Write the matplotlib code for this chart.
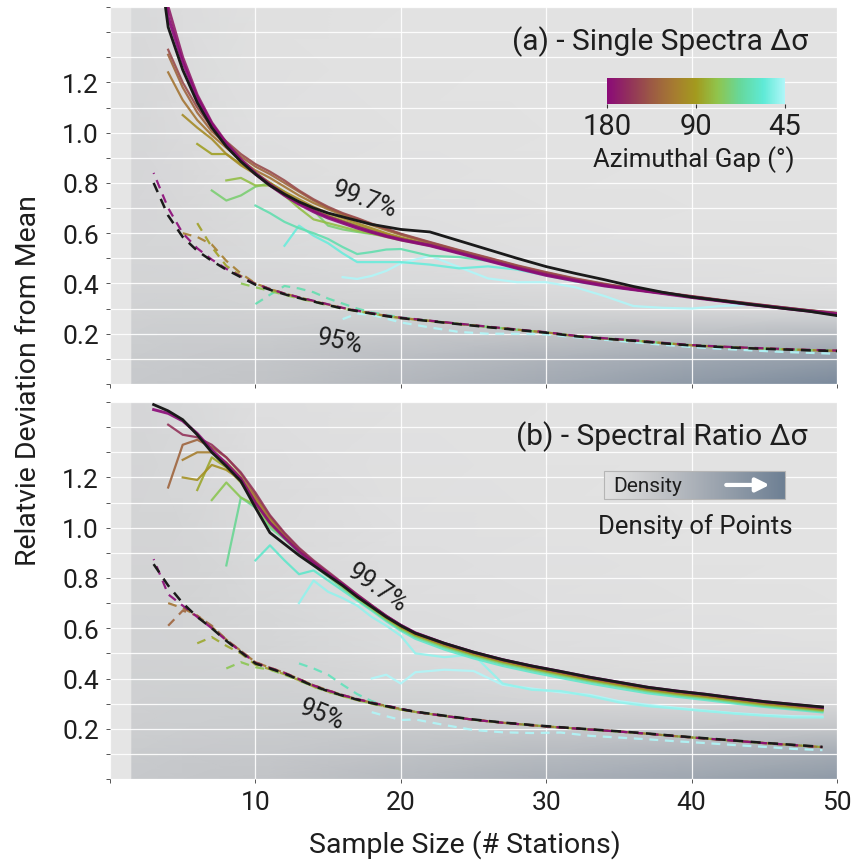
import numpy as np
import matplotlib
matplotlib.use('Agg')
import matplotlib.pyplot as plt
from matplotlib.colors import LinearSegmentedColormap, LogNorm, Normalize
from matplotlib.ticker import FixedLocator, NullLocator
from matplotlib.cm import ScalarMappable

plt.rcParams['font.family'] = ['Roboto', 'DejaVu Sans']

N = np.nan

# sample sizes used for the curves
XA = list(range(3, 21)) + list(range(22, 51, 2))
XB = list(range(3, 21)) + list(range(21, 50, 2))

# ---- panel (a) single spectra, 99.7% ----
a99_all = [1.85, 1.42, 1.25, 1.12, 1.02, 0.945, 0.885, 0.835, 0.79, 0.755, 0.725, 0.70, 0.68, 0.665, 0.65,
           0.635, 0.625, 0.615, 0.605, 0.57, 0.535, 0.50, 0.467, 0.44, 0.415, 0.388, 0.365, 0.346, 0.332,
           0.317, 0.303, 0.29, 0.272]
a99 = {
    180: [1.9, 1.46, 1.28, 1.14, 1.035, 0.955, 0.89, 0.835, 0.79, 0.75, 0.715, 0.685, 0.66, 0.64, 0.62, 0.603,
          0.587, 0.573, 0.55, 0.52, 0.49, 0.46, 0.432, 0.41, 0.39, 0.375, 0.36, 0.344, 0.33, 0.316, 0.303, 0.29, 0.277],
    165: [1.95, 1.50, 1.30, 1.15, 1.04, 0.96, 0.895, 0.84, 0.795, 0.755, 0.72, 0.69, 0.665, 0.645, 0.625, 0.607,
          0.59, 0.576, 0.553, 0.523, 0.493, 0.463, 0.436, 0.413, 0.393, 0.377, 0.362, 0.347, 0.332, 0.318, 0.305, 0.292, 0.28],
    135: [N, 1.33, 1.20, 1.10, 1.02, 0.965, 0.915, 0.875, 0.845, 0.81, 0.77, 0.735, 0.705, 0.68, 0.66, 0.638,
          0.618, 0.598, 0.565, 0.533, 0.503, 0.472, 0.445, 0.42, 0.399, 0.381, 0.365, 0.35, 0.335, 0.321, 0.307, 0.294, 0.283],
    120: [N, 1.31, 1.18, 1.08, 1.005, 0.955, 0.905, 0.865, 0.835, 0.80, 0.765, 0.73, 0.70, 0.677, 0.657, 0.636,
          0.616, 0.596, 0.563, 0.531, 0.501, 0.47, 0.443, 0.418, 0.397, 0.379, 0.363, 0.348, 0.333, 0.319, 0.305, 0.292, 0.281],
    110: [N, 1.24, 1.13, 1.05, 0.99, 0.94, 0.89, 0.85, 0.82, 0.785, 0.75, 0.72, 0.695, 0.672, 0.652, 0.632,
          0.612, 0.593, 0.56, 0.528, 0.498, 0.468, 0.441, 0.416, 0.395, 0.378, 0.362, 0.347, 0.332, 0.318, 0.305, 0.292, 0.28],
    98: [N, N, 1.07, 1.02, 0.975, 0.915, 0.87, 0.835, 0.80, 0.765, 0.735, 0.705, 0.68, 0.66, 0.64, 0.62,
         0.60, 0.583, 0.553, 0.523, 0.493, 0.463, 0.437, 0.413, 0.393, 0.376, 0.361, 0.346, 0.331, 0.317, 0.304, 0.291, 0.279],
    88: [N, N, N, 0.955, 0.915, 0.915, 0.875, 0.84, 0.80, 0.76, 0.72, 0.69, 0.67, 0.65, 0.632, 0.613,
         0.596, 0.58, 0.552, 0.522, 0.492, 0.462, 0.436, 0.412, 0.392, 0.376, 0.361, 0.346, 0.332, 0.318, 0.305, 0.292, 0.28],
    78: [N, N, N, N, N, 0.81, 0.82, 0.79, 0.79, 0.75, 0.70, 0.655, 0.64, 0.625, 0.61, 0.598,
         0.585, 0.572, 0.55, 0.522, 0.493, 0.464, 0.438, 0.414, 0.394, 0.377, 0.362, 0.347, 0.333, 0.319, 0.306, 0.293, 0.281],
    70: [N, N, N, N, 0.77, 0.73, 0.75, 0.785, 0.80, 0.765, 0.72, 0.69, 0.63, 0.615, 0.605, 0.597,
         0.59, 0.58, 0.553, 0.523, 0.495, 0.465, 0.44, 0.415, 0.395, 0.378, 0.363, 0.348, 0.334, 0.32, 0.307, 0.294, 0.282],
    60: [N] * 7 + [0.71, 0.68, 0.645, 0.62, 0.60, 0.577, 0.545, 0.517, 0.525, 0.535, 0.537, 0.51, 0.505, 0.49,
                   0.462, 0.435, 0.41, 0.392, 0.376, 0.361, 0.346, 0.332, 0.318, 0.305, 0.292, 0.28],
    52: [N] * 9 + [0.55, 0.63, 0.59, 0.56, 0.52, 0.485, 0.485, 0.485, 0.485, 0.475, 0.46, 0.468, 0.455, 0.432,
                   0.408, 0.39, 0.375, 0.36, 0.345, 0.331, 0.317, 0.304, 0.291, 0.279],
    45: [N] * 13 + [0.425, 0.418, 0.43, 0.45, 0.48, 0.51, 0.465, 0.42, 0.405, 0.405, 0.385, 0.35, 0.31, 0.303,
                    0.30, 0.31, 0.315, 0.305, 0.293, 0.28],
}

# ---- panel (a) single spectra, 95% ----
a95_all = [0.80, 0.67, 0.585, 0.53, 0.49, 0.455, 0.425, 0.395, 0.375, 0.357, 0.342, 0.328, 0.314, 0.30, 0.29,
           0.28, 0.27, 0.262, 0.25, 0.238, 0.226, 0.215, 0.204, 0.19, 0.18, 0.172, 0.162, 0.153, 0.147, 0.142,
           0.138, 0.134, 0.131]
a95_tail = [0.251, 0.239, 0.227, 0.216, 0.205, 0.191, 0.181, 0.173, 0.163, 0.154, 0.148, 0.143, 0.139, 0.135, 0.132]
a95 = {
    180: [0.84, 0.70, 0.60, 0.54, 0.495, 0.458, 0.428, 0.398, 0.378, 0.36, 0.345, 0.331, 0.317, 0.303, 0.292,
          0.282, 0.272, 0.264, 0.252, 0.24, 0.228, 0.217, 0.206, 0.192, 0.182, 0.174, 0.164, 0.155, 0.149,
          0.144, 0.14, 0.136, 0.133],
    105: [N, N, 0.60, 0.585, 0.555, 0.49, 0.44, 0.40, 0.378, 0.36, 0.345, 0.33, 0.316, 0.302, 0.291, 0.281,
          0.271, 0.263] + a95_tail,
    88: [N, N, N, 0.64, 0.545, 0.47, 0.43, 0.40, 0.378, 0.36, 0.344, 0.33, 0.316, 0.302, 0.291, 0.281,
         0.271, 0.263] + a95_tail,
    75: [N] * 6 + [0.40, 0.385, 0.37, 0.355, 0.34, 0.327, 0.313, 0.30, 0.29, 0.28, 0.27, 0.262] + a95_tail,
    60: [N] * 7 + [0.318, 0.355, 0.39, 0.38, 0.365, 0.34, 0.32, 0.30, 0.285, 0.275, 0.265] + a95_tail,
    45: [N] * 13 + [0.258, 0.28, 0.275, 0.26, 0.245, 0.225, 0.207, 0.2, 0.2, 0.197, 0.186, 0.176, 0.166,
                    0.156, 0.147, 0.14, 0.134, 0.128, 0.124, 0.12],
}

# ---- panel (b) spectral ratio, 99.7% ----
b99_all = [1.49, 1.465, 1.43, 1.37, 1.30, 1.245, 1.185, 1.08, 0.98, 0.935, 0.89, 0.85, 0.81, 0.77, 0.725,
           0.685, 0.645, 0.61, 0.58, 0.54, 0.505, 0.475, 0.45, 0.428, 0.405, 0.385, 0.365, 0.35, 0.337,
           0.322, 0.308, 0.297, 0.287]
b99 = {
    180: [1.47, 1.455, 1.425, 1.375, 1.31, 1.255, 1.195, 1.10, 1.02, 0.96, 0.905, 0.86, 0.815, 0.775, 0.73,
          0.688, 0.648, 0.612, 0.582, 0.54, 0.505, 0.475, 0.45, 0.428, 0.405, 0.385, 0.365, 0.35, 0.337,
          0.322, 0.308, 0.297, 0.285],
    150: [N, 1.41, 1.37, 1.36, 1.33, 1.28, 1.22, 1.14, 1.05, 0.98, 0.92, 0.87, 0.825, 0.78, 0.735, 0.692,
          0.65, 0.613, 0.582, 0.54, 0.505, 0.475, 0.45, 0.427, 0.404, 0.384, 0.364, 0.349, 0.336, 0.321,
          0.307, 0.296, 0.284],
    120: [N, 1.16, 1.33, 1.35, 1.32, 1.28, 1.215, 1.13, 1.045, 0.975, 0.915, 0.865, 0.82, 0.776, 0.732, 0.69,
          0.648, 0.611, 0.58, 0.538, 0.503, 0.473, 0.448, 0.425, 0.402, 0.382, 0.362, 0.347, 0.334, 0.319,
          0.305, 0.294, 0.282],
    105: [N, N, 1.27, 1.30, 1.30, 1.26, 1.20, 1.12, 1.04, 0.975, 0.915, 0.865, 0.82, 0.775, 0.73, 0.688,
          0.646, 0.609, 0.578, 0.536, 0.501, 0.471, 0.446, 0.423, 0.4, 0.38, 0.36, 0.345, 0.332, 0.317,
          0.303, 0.292, 0.28],
    95: [N, N, 1.20, 1.19, 1.25, 1.23, 1.19, 1.11, 1.03, 0.97, 0.912, 0.862, 0.817, 0.772, 0.727, 0.685,
         0.643, 0.606, 0.575, 0.533, 0.498, 0.468, 0.443, 0.42, 0.397, 0.377, 0.357, 0.342, 0.329, 0.314,
         0.3, 0.289, 0.277],
    85: [N, N, N, 1.15, 1.28, 1.24, 1.18, 1.10, 1.02, 0.965, 0.91, 0.86, 0.815, 0.77, 0.725, 0.683,
         0.641, 0.604, 0.573, 0.531, 0.496, 0.466, 0.441, 0.418, 0.395, 0.375, 0.355, 0.34, 0.327, 0.312,
         0.298, 0.287, 0.275],
    75: [N, N, N, N, 1.11, 1.18, 1.12, 1.09, 1.01, 0.96, 0.905, 0.855, 0.81, 0.765, 0.72, 0.68,
         0.638, 0.6, 0.57, 0.528, 0.493, 0.463, 0.438, 0.415, 0.392, 0.372, 0.352, 0.337, 0.324, 0.309,
         0.295, 0.284, 0.272],
    65: [N, N, N, N, N, 0.85, 1.12, 1.08, 1.0, 0.955, 0.90, 0.85, 0.805, 0.76, 0.715, 0.675,
         0.633, 0.595, 0.565, 0.523, 0.488, 0.458, 0.433, 0.41, 0.388, 0.368, 0.348, 0.333, 0.32, 0.305,
         0.291, 0.28, 0.269],
    55: [N] * 7 + [0.87, 0.93, 0.87, 0.815, 0.83, 0.79, 0.75, 0.71, 0.67, 0.628, 0.59, 0.558, 0.515, 0.48,
                   0.45, 0.425, 0.402, 0.38, 0.36, 0.341, 0.327, 0.314, 0.3, 0.287, 0.276, 0.265],
    48: [N] * 10 + [0.70, 0.79, 0.745, 0.72, 0.69, 0.645, 0.61, 0.57, 0.50, 0.485, 0.495, 0.38, 0.355,
                    0.35, 0.33, 0.305, 0.29, 0.28, 0.27, 0.26, 0.252, 0.245, 0.245],
    45: [N] * 15 + [0.40, 0.415, 0.38, 0.425, 0.435, 0.43, 0.375, 0.36, 0.345, 0.335, 0.31, 0.295, 0.283,
                    0.272, 0.262, 0.255, 0.25, 0.248],
}

# ---- panel (b) spectral ratio, 95% ----
b95_all = [0.855, 0.77, 0.70, 0.645, 0.60, 0.55, 0.505, 0.46, 0.44, 0.42, 0.395, 0.37, 0.35, 0.332, 0.316,
           0.302, 0.29, 0.278, 0.268, 0.252, 0.237, 0.225, 0.215, 0.206, 0.198, 0.19, 0.181, 0.171, 0.162,
           0.153, 0.144, 0.136, 0.128]
b95_tail = [0.267, 0.251, 0.236, 0.224, 0.214, 0.205, 0.197, 0.189, 0.18, 0.17, 0.161, 0.152, 0.143, 0.135, 0.127]
b95 = {
    180: [0.875, 0.735, 0.69, 0.645, 0.60, 0.552, 0.507, 0.462, 0.442, 0.422, 0.397, 0.372, 0.352, 0.334,
          0.318, 0.304, 0.292, 0.28] + b95_tail,
    120: [N, 0.61, 0.67, 0.65, 0.61, 0.555, 0.51, 0.465, 0.443, 0.423, 0.398, 0.373, 0.353, 0.334, 0.318,
          0.304, 0.291, 0.279] + b95_tail,
    110: [N, 0.70, 0.68, 0.65, 0.605, 0.555, 0.51, 0.465, 0.443, 0.423, 0.398, 0.373, 0.353, 0.334, 0.318,
          0.304, 0.291, 0.279] + b95_tail,
    85: [N, N, N, 0.54, 0.565, 0.53, 0.50, 0.455, 0.437, 0.417, 0.393, 0.368, 0.348, 0.33, 0.314, 0.3,
         0.288, 0.276] + b95_tail,
    75: [N] * 5 + [0.44, 0.465, 0.445, 0.435, 0.415, 0.392, 0.367, 0.347, 0.33, 0.314, 0.3, 0.288, 0.276] + b95_tail,
    58: [N] * 10 + [0.46, 0.44, 0.415, 0.375, 0.338, 0.31, 0.29, 0.278] + b95_tail,
    45: [N] * 15 + [0.266, 0.25, 0.235, 0.237, 0.215, 0.195, 0.186, 0.183, 0.185, 0.172, 0.165, 0.158,
                    0.15, 0.143, 0.135, 0.128, 0.12, 0.115],
}

# ---- point density backgrounds (coarse grid read from the shading) ----
dens_x = [1.5, 5, 10, 20, 30, 40, 50]
dens_y = [0.0, 0.1, 0.2, 0.3, 0.4, 0.5, 0.7, 1.0, 1.5]
dens_a = [
    [0.26, 0.28, 0.31, 0.43, 0.56, 0.72, 0.88],
    [0.24, 0.26, 0.28, 0.37, 0.47, 0.58, 0.68],
    [0.20, 0.22, 0.22, 0.27, 0.31, 0.35, 0.40],
    [0.17, 0.18, 0.17, 0.16, 0.14, 0.11, 0.10],
    [0.15, 0.15, 0.13, 0.10, 0.06, 0.04, 0.03],
    [0.14, 0.13, 0.10, 0.06, 0.03, 0.02, 0.01],
    [0.13, 0.11, 0.07, 0.03, 0.01, 0.0, 0.0],
    [0.12, 0.08, 0.03, 0.01, 0.0, 0.0, 0.0],
    [0.10, 0.06, 0.02, 0.0, 0.0, 0.0, 0.0],
]
dens_b = [
    [0.26, 0.28, 0.30, 0.40, 0.50, 0.60, 0.72],
    [0.24, 0.26, 0.27, 0.33, 0.40, 0.47, 0.55],
    [0.21, 0.22, 0.23, 0.25, 0.27, 0.28, 0.30],
    [0.19, 0.20, 0.20, 0.18, 0.15, 0.13, 0.12],
    [0.18, 0.18, 0.17, 0.12, 0.08, 0.06, 0.05],
    [0.17, 0.17, 0.15, 0.08, 0.05, 0.03, 0.02],
    [0.16, 0.16, 0.12, 0.05, 0.03, 0.01, 0.0],
    [0.15, 0.14, 0.08, 0.03, 0.01, 0.0, 0.0],
    [0.13, 0.10, 0.04, 0.01, 0.0, 0.0, 0.0],
]

y_ticks = [0.0, 0.1, 0.2, 0.3, 0.4, 0.5, 0.6, 0.7, 0.8, 0.9, 1.0, 1.1, 1.2, 1.3, 1.4, 1.5]
y_labels = ['', '', '0.2', '', '0.4', '', '0.6', '', '0.8', '', '1.0', '', '1.2', '', '', '']
x_ticks = [0, 10, 20, 30, 40, 50]
x_labels = ['', '10', '20', '30', '40', '50']

gap_cmap = LinearSegmentedColormap.from_list('gap', [
    (0.0, '#b0f6f8'), (0.12, '#5eead6'), (0.25, '#66d89c'), (0.38, '#90c44c'), (0.5, '#a39a1e'),
    (0.62, '#a67c30'), (0.75, '#9c5a44'), (0.88, '#92305c'), (1.0, '#8b0a78')])
gap_norm = LogNorm(vmin=45, vmax=180)
dens_cmap = LinearSegmentedColormap.from_list('dens', [
    (0.0, '#e2e2e2'), (0.3, '#c3c5c8'), (0.6, '#9ea6b0'), (1.0, '#6d7f93')])

TXT = '#1e1e1e'

fig = plt.figure(figsize=(8.54, 8.62), dpi=100)
ax_a = fig.add_axes([0.1288, 0.5534, 0.8513, 0.4373])
ax_b = fig.add_axes([0.1288, 0.0951, 0.8513, 0.4373])


def draw_panel(ax, xs, dens, q99, q99_all, q95, q95_all):
    ax.set_facecolor('#e5e5e5')
    ax.pcolormesh(dens_x, dens_y, np.array(dens), shading='gouraud', cmap=dens_cmap,
                  vmin=0, vmax=1, zorder=0.5)
    for g in sorted(q95):
        ls = (3.5, (4, 3)) if g == 180 else (0, (4, 3))
        ax.plot(xs, q95[g], color=gap_cmap(gap_norm(g)), lw=1.6, ls=ls, alpha=0.9, zorder=2)
    ax.plot(xs, q95_all, color='#1a1a1a', lw=1.8, ls=(0, (4, 3)), zorder=3)
    for g in sorted(q99):
        ax.plot(xs, q99[g], color=gap_cmap(gap_norm(g)), lw=2.1 if g >= 165 else 1.6,
                alpha=0.9, zorder=2)
    ax.plot(xs, q99_all, color='#1a1a1a', lw=2.0, zorder=3)

    ax.set_xlim(0, 50)
    ax.set_ylim(0, 1.5)
    ax.set_axisbelow('line')
    ax.yaxis.set_major_locator(FixedLocator(y_ticks))
    ax.set_yticklabels(y_labels)
    ax.xaxis.set_major_locator(FixedLocator(x_ticks))
    ax.grid(True, color='white', lw=0.9, alpha=0.9)
    ax.tick_params(length=3, width=0.7, color='#555555', labelsize=19, labelcolor=TXT, pad=5)
    for s in ax.spines.values():
        s.set_visible(False)


draw_panel(ax_a, XA, dens_a, a99, a99_all, a95, a95_all)
draw_panel(ax_b, XB, dens_b, b99, b99_all, b95, b95_all)
ax_a.set_xticklabels(['' for _ in x_ticks])
ax_b.set_xticklabels(x_labels)

# percentile labels
ax_a.text(17.5, 0.735, '99.7%', rotation=-20, fontsize=18, color=TXT, ha='center', va='center', zorder=5)
ax_a.text(15.8, 0.17, '95%', rotation=-12, fontsize=18, color=TXT, ha='center', va='center', zorder=5)
ax_b.text(18.4, 0.763, '99.7%', rotation=-35, fontsize=18, color=TXT, ha='center', va='center', zorder=5)
ax_b.text(14.6, 0.258, '95%', rotation=-22, fontsize=18, color=TXT, ha='center', va='center', zorder=5)

# panel titles
ax_a.text(0.96, 0.91, '(a) - Single Spectra Δσ', transform=ax_a.transAxes, ha='right', va='center',
          fontsize=21.5, color=TXT, zorder=5)
ax_b.text(0.96, 0.91, '(b) - Spectral Ratio Δσ', transform=ax_b.transAxes, ha='right', va='center',
          fontsize=21.5, color=TXT, zorder=5)

# azimuthal gap colour bar
cax = fig.add_axes([0.7108, 0.8782, 0.2084, 0.0302])
cb = fig.colorbar(ScalarMappable(norm=gap_norm, cmap=gap_cmap), cax=cax, orientation='horizontal')
cax.invert_xaxis()
cb.set_ticks([180, 90, 45])
cb.set_ticklabels(['180', '90', '45'])
cax.xaxis.set_minor_locator(NullLocator())
cax.tick_params(length=3, width=0.8, color='#333333', labelsize=21, labelcolor=TXT, pad=3)
cb.outline.set_visible(False)
fig.text(0.8125, 0.8145, 'Azimuthal Gap (°)', ha='center', va='center', fontsize=18.5, color=TXT)

# density legend
dax = fig.add_axes([0.7073, 0.420, 0.2119, 0.0325])
db = fig.colorbar(ScalarMappable(norm=Normalize(0, 1), cmap=dens_cmap), cax=dax, orientation='horizontal')
db.set_ticks([])
db.outline.set_edgecolor('#b5b5b5')
db.outline.set_linewidth(0.8)
dax.text(0.05, 0.48, 'Density', transform=dax.transAxes, ha='left', va='center', fontsize=15, color=TXT)
dax.annotate('', xy=(0.93, 0.5), xytext=(0.66, 0.5), xycoords='axes fraction', textcoords='axes fraction',
             arrowprops=dict(arrowstyle='-|>', color='white', lw=3, mutation_scale=20))
fig.text(0.8138, 0.3886, 'Density of Points', ha='center', va='center', fontsize=18.5, color=TXT)

fig.text(0.033, 0.558, 'Relatvie Deviation from Mean', rotation=90, ha='center', va='center',
         fontsize=20.5, color=TXT)
fig.text(0.5445, 0.0197, 'Sample Size (# Stations)', ha='center', va='center', fontsize=20.5, color=TXT)

fig.savefig('out.png', dpi=100, facecolor='white')
